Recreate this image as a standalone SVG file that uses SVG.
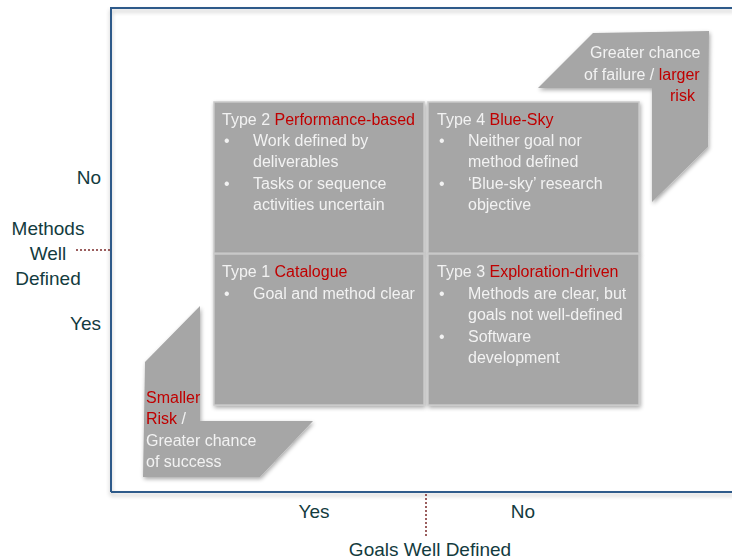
<svg xmlns="http://www.w3.org/2000/svg" width="732" height="560" viewBox="0 0 732 560">
<defs>
<filter id="sh" x="-10%" y="-10%" width="130%" height="130%">
<feGaussianBlur in="SourceAlpha" stdDeviation="2"/>
<feOffset dx="1" dy="2" result="b"/>
<feComponentTransfer><feFuncA type="linear" slope="0.35"/></feComponentTransfer>
<feMerge><feMergeNode/><feMergeNode in="SourceGraphic"/></feMerge>
</filter>
<filter id="fsh" x="-5%" y="-5%" width="110%" height="110%">
<feGaussianBlur in="SourceAlpha" stdDeviation="2"/>
<feOffset dx="0" dy="3"/>
<feComponentTransfer><feFuncA type="linear" slope="0.25"/></feComponentTransfer>
<feMerge><feMergeNode/><feMergeNode in="SourceGraphic"/></feMerge>
</filter>
</defs>
<style>
.box{fill:#A6A6A6;stroke:#C9C9C9;stroke-width:1.5}
.shape{fill:#A6A6A6}
.t{font-family:"Liberation Sans",Arial,sans-serif;font-size:16px;fill:#F2F2F2}
.r{fill:#C00000}
.ax{font-family:"Liberation Sans",Arial,sans-serif;font-size:19px;fill:#133B3E}
.dot{stroke:#7B2A2A;stroke-width:1.5;stroke-dasharray:2 2;fill:none}
</style>
<rect width="732" height="560" fill="#FFFFFF"/>
<g id="frame" filter="url(#fsh)">
<path d="M111,492 L111,8 L734,8 M111,492 L734,492" fill="none" stroke="#2E5A8A" stroke-width="2"/>
</g>
<g id="connectors">
<line class="dot" x1="76" y1="250" x2="110" y2="250"/>
<line class="dot" x1="426" y1="494" x2="426" y2="537"/>
</g>
<g id="risk-high" filter="url(#sh)">
<polygon class="shape" points="538,88 593,33 709,31 708,147 652,202 652,88"/>
<text class="t" x="590" y="58">Greater chance</text>
<text class="t" x="584" y="80">of failure / <tspan class="r">larger</tspan></text>
<text class="t" x="670" y="101"><tspan class="r">risk</tspan></text>
</g>
<g id="risk-low" filter="url(#sh)">
<polygon class="shape" points="200,306 145,362 143,477 260,477 313,421 200,421"/>
<text class="t" x="146" y="403"><tspan class="r">Smaller</tspan></text>
<text class="t" x="146" y="424"><tspan class="r">Risk</tspan> /</text>
<text class="t" x="146" y="446">Greater chance</text>
<text class="t" x="146" y="467">of success</text>
</g>
<g id="type2" filter="url(#sh)">
<rect class="box" x="214" y="102" width="210" height="151"/>
<text class="t" x="222" y="125">Type 2 <tspan class="r">Performance-based</tspan></text>
<text class="t" x="224" y="146">•</text>
<text class="t" x="253" y="146">Work defined by</text>
<text class="t" x="253" y="167">deliverables</text>
<text class="t" x="224" y="189">•</text>
<text class="t" x="253" y="189">Tasks or sequence</text>
<text class="t" x="253" y="210">activities uncertain</text>
</g>
<g id="type4" filter="url(#sh)">
<rect class="box" x="428" y="102" width="211" height="151"/>
<text class="t" x="437" y="125">Type 4 <tspan class="r">Blue-Sky</tspan></text>
<text class="t" x="439" y="146">•</text>
<text class="t" x="468" y="146">Neither goal nor</text>
<text class="t" x="468" y="167">method defined</text>
<text class="t" x="439" y="189">•</text>
<text class="t" x="468" y="189">‘Blue-sky’ research</text>
<text class="t" x="468" y="210">objective</text>
</g>
<g id="type1" filter="url(#sh)">
<rect class="box" x="214" y="254" width="210" height="151"/>
<text class="t" x="222" y="277">Type 1 <tspan class="r">Catalogue</tspan></text>
<text class="t" x="224" y="299">•</text>
<text class="t" x="253" y="299">Goal and method clear</text>
</g>
<g id="type3" filter="url(#sh)">
<rect class="box" x="428" y="254" width="211" height="151"/>
<text class="t" x="437" y="277">Type 3 <tspan class="r">Exploration-driven</tspan></text>
<text class="t" x="439" y="299">•</text>
<text class="t" x="468" y="299">Methods are clear, but</text>
<text class="t" x="468" y="320">goals not well-defined</text>
<text class="t" x="439" y="342">•</text>
<text class="t" x="468" y="342">Software</text>
<text class="t" x="468" y="363">development</text>
</g>
<g id="y-axis-labels">
<text class="ax" x="101" y="184" text-anchor="end">No</text>
<text class="ax" x="48" y="235" text-anchor="middle">Methods</text>
<text class="ax" x="48" y="260" text-anchor="middle">Well</text>
<text class="ax" x="48" y="285" text-anchor="middle">Defined</text>
<text class="ax" x="101" y="330" text-anchor="end">Yes</text>
</g>
<g id="x-axis-labels">
<text class="ax" x="314" y="518" text-anchor="middle">Yes</text>
<text class="ax" x="523" y="518" text-anchor="middle">No</text>
<text class="ax" x="430" y="556" text-anchor="middle">Goals Well Defined</text>
</g>
</svg>
